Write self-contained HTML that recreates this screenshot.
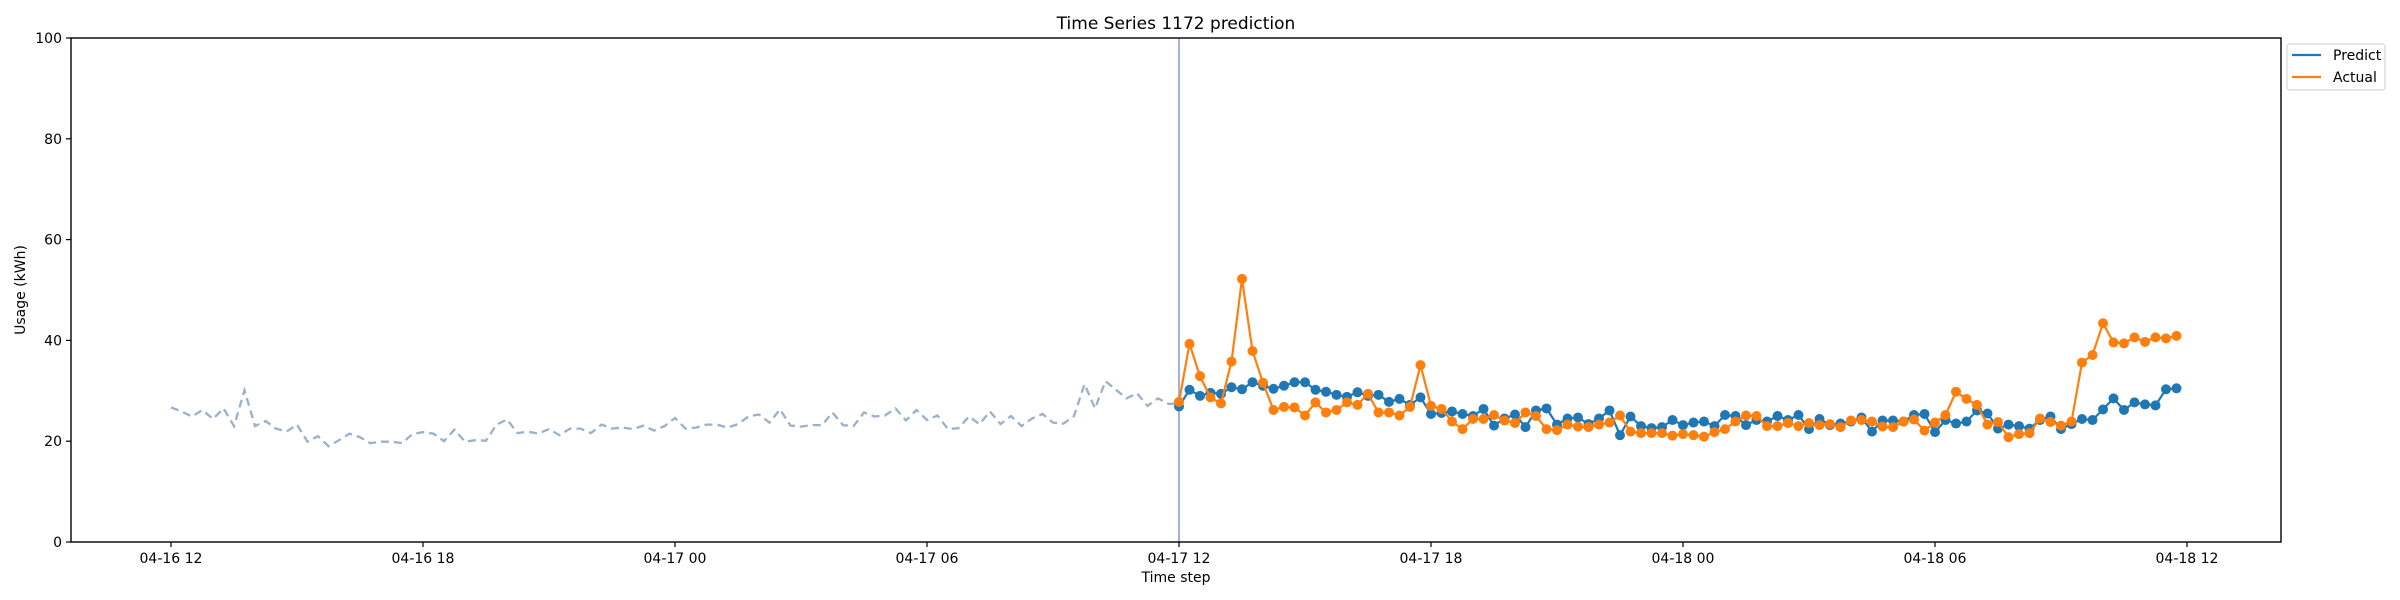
<!DOCTYPE html>
<html><head><meta charset="utf-8">
<style>
body{margin:0;background:#fff;}
svg{display:block;font-family:"DejaVu Sans","Liberation Sans",sans-serif;}
</style></head>
<body>
<svg id="chart" width="2400" height="600" viewBox="0 0 2400 600" xmlns="http://www.w3.org/2000/svg">
<rect width="2400" height="600" fill="#fff"/>
<text x="1176" y="29" font-size="17" text-anchor="middle">Time Series 1172 prediction</text>
<g id="plot"></g>
<rect x="71" y="38" width="2210" height="504" fill="none" stroke="#000" stroke-width="1.4"/>
<text x="1176" y="582" font-size="14" text-anchor="middle">Time step</text>
<text x="25" y="290" font-size="14" text-anchor="middle" transform="rotate(-90 25 290)">Usage (kWh)</text>
<g>
<rect x="2287" y="44" width="98" height="46" rx="3" fill="#fff" stroke="#d6d6d6" stroke-width="1.2"/>
<line x1="2292" y1="55" x2="2321" y2="55" stroke="#1f77b4" stroke-width="2.2"/>
<text x="2333" y="60" font-size="14">Predict</text>
<line x1="2292" y1="77" x2="2321" y2="77" stroke="#ff7f0e" stroke-width="2.2"/>
<text x="2333" y="82" font-size="14">Actual</text>
</g>
</svg>
<script>
const history = [26.7,25.9,24.9,26.2,24.4,26.5,23.0,30.1,23.0,24.0,22.5,21.9,23.3,19.9,21.0,19.0,20.2,21.5,20.8,19.6,19.9,19.9,19.6,21.4,21.8,21.5,20.0,22.3,19.9,20.2,20.1,23.3,24.3,21.6,21.9,21.5,22.4,21.2,22.5,22.5,21.6,23.3,22.5,22.7,22.4,23.1,22.1,23.0,24.6,22.5,22.7,23.3,23.3,22.7,23.4,24.9,25.3,23.7,26.3,23.1,22.9,23.2,23.2,25.7,23.2,23.0,25.7,24.9,25.1,26.5,24.1,26.2,24.2,25.1,22.4,22.6,24.9,23.4,25.9,23.4,25.0,23.0,24.5,25.4,23.7,23.5,25.0,31.3,26.5,31.9,30.2,28.5,29.5,27.0,28.5,27.4,27.5];
const predict = [26.9,30.2,29.0,29.6,29.4,30.7,30.3,31.7,31.0,30.4,31.0,31.7,31.7,30.2,29.8,29.2,28.8,29.7,29.0,29.2,27.8,28.4,27.2,28.7,25.4,25.6,25.9,25.4,25.0,26.4,23.1,24.5,25.3,22.8,26.1,26.5,23.3,24.5,24.7,23.4,24.5,26.1,21.2,24.9,23.0,22.6,22.8,24.2,23.2,23.7,23.9,23.0,25.2,25.0,23.2,24.2,23.9,25.0,24.2,25.2,22.4,24.4,23.2,23.5,23.9,24.7,21.9,24.1,24.1,23.9,25.2,25.4,21.8,24.2,23.5,23.9,26.1,25.5,22.5,23.3,23.0,22.5,24.2,24.9,22.4,23.4,24.4,24.2,26.3,28.5,26.2,27.7,27.3,27.1,30.3,30.5];
const actual = [27.8,39.3,32.9,28.7,27.5,35.8,52.2,37.9,31.6,26.2,26.8,26.7,25.1,27.7,25.7,26.2,27.7,27.2,29.4,25.7,25.7,25.1,26.8,35.1,27.0,26.4,23.9,22.4,24.4,24.4,25.2,24.1,23.6,25.7,25.0,22.4,22.2,23.3,22.9,22.8,23.3,23.7,25.1,21.9,21.6,21.6,21.6,21.1,21.4,21.2,20.9,21.8,22.4,23.9,25.1,25.0,23.0,23.0,23.6,23.0,23.6,23.2,23.4,22.8,24.1,24.2,23.9,22.9,22.8,23.9,24.3,22.1,23.7,25.2,29.8,28.4,27.2,23.3,23.8,20.8,21.4,21.6,24.5,23.8,23.1,23.9,35.6,37.1,43.4,39.6,39.4,40.6,39.7,40.6,40.4,40.9];
const xTickLabels = ["04-16 12","04-16 18","04-17 00","04-17 06","04-17 12","04-17 18","04-18 00","04-18 06","04-18 12"];
const yTicks = [0,20,40,60,80,100];
const stepHours = 0.25;
const forecastStartHours = 24;

const NS="http://www.w3.org/2000/svg";
const X0=171, PXH=42.0, Y0=542, PXV=5.04;
function xs(h){return X0+h*PXH;}
function ys(v){return Y0-v*PXV;}
const g=document.getElementById('plot');
function mk(tag,attrs,parent){const e=document.createElementNS(NS,tag);for(const k in attrs)e.setAttribute(k,attrs[k]);(parent||g).appendChild(e);return e;}

yTicks.forEach(v=>{
  const t=mk('line',{x1:66,x2:71,y1:ys(v),y2:ys(v),stroke:'#000','stroke-width':1.2});
  
  
  const l=mk('text',{x:62,y:ys(v)+5,'font-size':14,'text-anchor':'end'});
  l.textContent=v;
  
  
});
xTickLabels.forEach((s,i)=>{
  const x=xs(i*6);
  const t=mk('line',{x1:x,x2:x,y1:542,y2:547,stroke:'#000','stroke-width':1.2});
  
  
  const l=mk('text',{x:x,y:563,'font-size':14,'text-anchor':'middle'});
  l.textContent=s;
  
  
});

const hp=history.map((v,i)=>xs(i*stepHours).toFixed(1)+','+ys(v).toFixed(1)).join(' ');
const hl=mk('polyline',{points:hp,fill:'none',stroke:'#9bb0ca','stroke-width':2.3,'stroke-dasharray':'8,5'});



const vl=mk('line',{x1:xs(forecastStartHours),x2:xs(forecastStartHours),y1:38,y2:542,stroke:'#a4b3d3','stroke-width':2});



function series(arr,color,name){
  const pts=arr.map((v,i)=>xs(forecastStartHours+i*stepHours).toFixed(1)+','+ys(v).toFixed(1)).join(' ');
  const pl=mk('polyline',{points:pts,fill:'none',stroke:color,'stroke-width':2.2});
  
  
  arr.forEach((v,i)=>{
    const c=mk('circle',{cx:xs(forecastStartHours+i*stepHours),cy:ys(v),r:5,fill:color});
    
    
  });
}
series(predict,'#1f77b4','predict');
series(actual,'#ff7f0e','actual');
</script>
</body></html>
